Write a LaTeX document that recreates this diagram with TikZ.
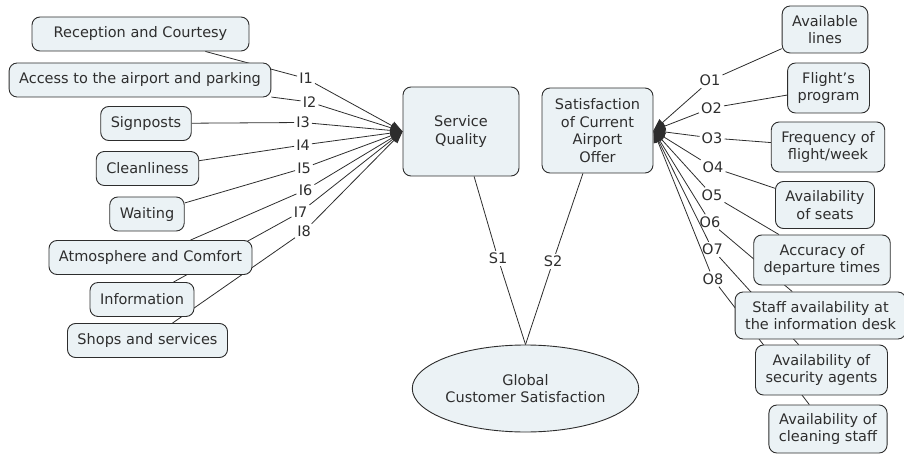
\documentclass[tikz,border=0pt]{standalone}
\usepackage{fontspec}
\setmainfont{DejaVu Sans}
\usepackage{xcolor}
\usepackage{tikz}
\usetikzlibrary{arrows.meta, shapes.geometric, backgrounds}
\definecolor{cfill}{RGB}{235,242,245}
\definecolor{cline}{RGB}{45,45,45}

\begin{document}
\begin{tikzpicture}[x=1pt,y=-1pt,>={Triangle[length=12pt,width=9pt]},
    every node/.style={font=\fontsize{14.5}{17.5}\selectfont,text=black!82},
    concept/.style={draw=cline,fill=cfill,rounded corners=8pt,line width=0.9pt,
        align=center,inner xsep=10pt,inner ysep=0pt,minimum height=34pt},
    tall/.style={concept,minimum height=50pt},
    linkword/.style={inner sep=2pt},
    link/.style={draw=cline,line width=0.8pt}]
  \useasboundingbox (0,0) rectangle (904,454);

  % indicators of service quality
  \node[concept,minimum width=217pt] (rc) at (140.5,34) {Reception and Courtesy};
  \node[concept] (ac) at (140,80) {Access to the airport and parking};
  \node[concept] (sp) at (146,123.5) {Signposts};
  \node[concept] (cl) at (147.5,168.5) {Cleanliness};
  \node[concept] (wt) at (147,214) {Waiting};
  \node[concept] (at) at (150.5,257.5) {Atmosphere and Comfort};
  \node[concept] (in) at (142,299.5) {Information};
  \node[concept] (ss) at (147.5,340.5) {Shops and services};

  % the two constructs and the global one
  \node[concept,minimum width=116pt,minimum height=89pt] (sq) at (461,131.5)
    {Service\\Quality};
  \node[concept,minimum width=111pt,minimum height=85pt] (sat) at (597.5,130.5)
    {Satisfaction\\of Current\\Airport\\Offer};
  \node[draw=cline,fill=cfill,line width=0.9pt,ellipse,align=center,inner sep=0pt,
        minimum width=191pt,minimum height=87pt] (gcs) at (525.5,388.5)
    {Global\\Customer Satisfaction};

  % indicators of the airport offer
  \node[tall,minimum height=47pt] (al) at (825,29.5) {Available\\lines};
  \node[tall] (fp) at (828.5,88) {Flight’s\\program};
  \node[tall] (fr) at (828,147) {Frequency of\\flight/week};
  \node[tall,minimum height=47pt] (as) at (825,205) {Availability\\of seats};
  \node[tall] (ad) at (822,260) {Accuracy of\\departure times};
  \node[tall,minimum height=47pt] (sa) at (820.5,315.5) {Staff availability at\\the information desk};
  \node[tall] (sg) at (821.5,370) {Availability of\\security agents};
  \node[tall,minimum height=48pt] (cs) at (828,429) {Availability of\\cleaning staff};

  % link words
  \node[linkword] (i1) at (306,78.5) {I1};
  \node[linkword] (i2) at (309.5,102) {I2};
  \node[linkword] (i3) at (303,122.5) {I3};
  \node[linkword] (i4) at (303,145) {I4};
  \node[linkword] (i5) at (304,168) {I5};
  \node[linkword] (i6) at (305.5,190) {I6};
  \node[linkword] (i7) at (300.5,212) {I7};
  \node[linkword] (i8) at (304,231.5) {I8};
  \node[linkword] (o1) at (710,80.5) {O1};
  \node[linkword] (o2) at (711.5,108) {O2};
  \node[linkword] (o3) at (712,138) {O3};
  \node[linkword] (o4) at (713,167.5) {O4};
  \node[linkword] (o5) at (712,195) {O5};
  \node[linkword] (o6) at (710,222) {O6};
  \node[linkword] (o7) at (712.5,249.5) {O7};
  \node[linkword] (o8) at (713,279) {O8};
  \node[linkword] (s1) at (498,258.5) {S1};
  \node[linkword] (s2) at (553,261.5) {S2};

  % links run behind the boxes
  \begin{scope}[on background layer]
    \draw[link,->] (rc) -- (i1) -- (sq.west);
    \draw[link,->] (ac) -- (i2) -- (sq.west);
    \draw[link,->] (sp) -- (i3) -- (sq.west);
    \draw[link,->] (cl) -- (i4) -- (sq.west);
    \draw[link,->] (wt) -- (i5) -- (sq.west);
    \draw[link,->] (at) -- (i6) -- (sq.west);
    \draw[link,->] (in) -- (i7) -- (sq.west);
    \draw[link,->] (ss) -- (i8) -- (sq.west);

    \draw[link,->] (al) -- (o1) -- (sat.east);
    \draw[link,->] (fp) -- (o2) -- (sat.east);
    \draw[link,->] (fr) -- (o3) -- (sat.east);
    \draw[link,->] (as) -- (o4) -- (sat.east);
    \draw[link,->] (ad) -- (o5) -- (sat.east);
    \draw[link,->] (sa) -- (o6) -- (sat.east);
    \draw[link,->] (sg) -- (o7) -- (sat.east);
    \draw[link,->] (cs) -- (o8) -- (sat.east);

    \draw[link] (sq) -- (s1) -- (gcs.north);
    \draw[link] (sat) -- (s2) -- (gcs.north);
  \end{scope}
\end{tikzpicture}
\end{document}
